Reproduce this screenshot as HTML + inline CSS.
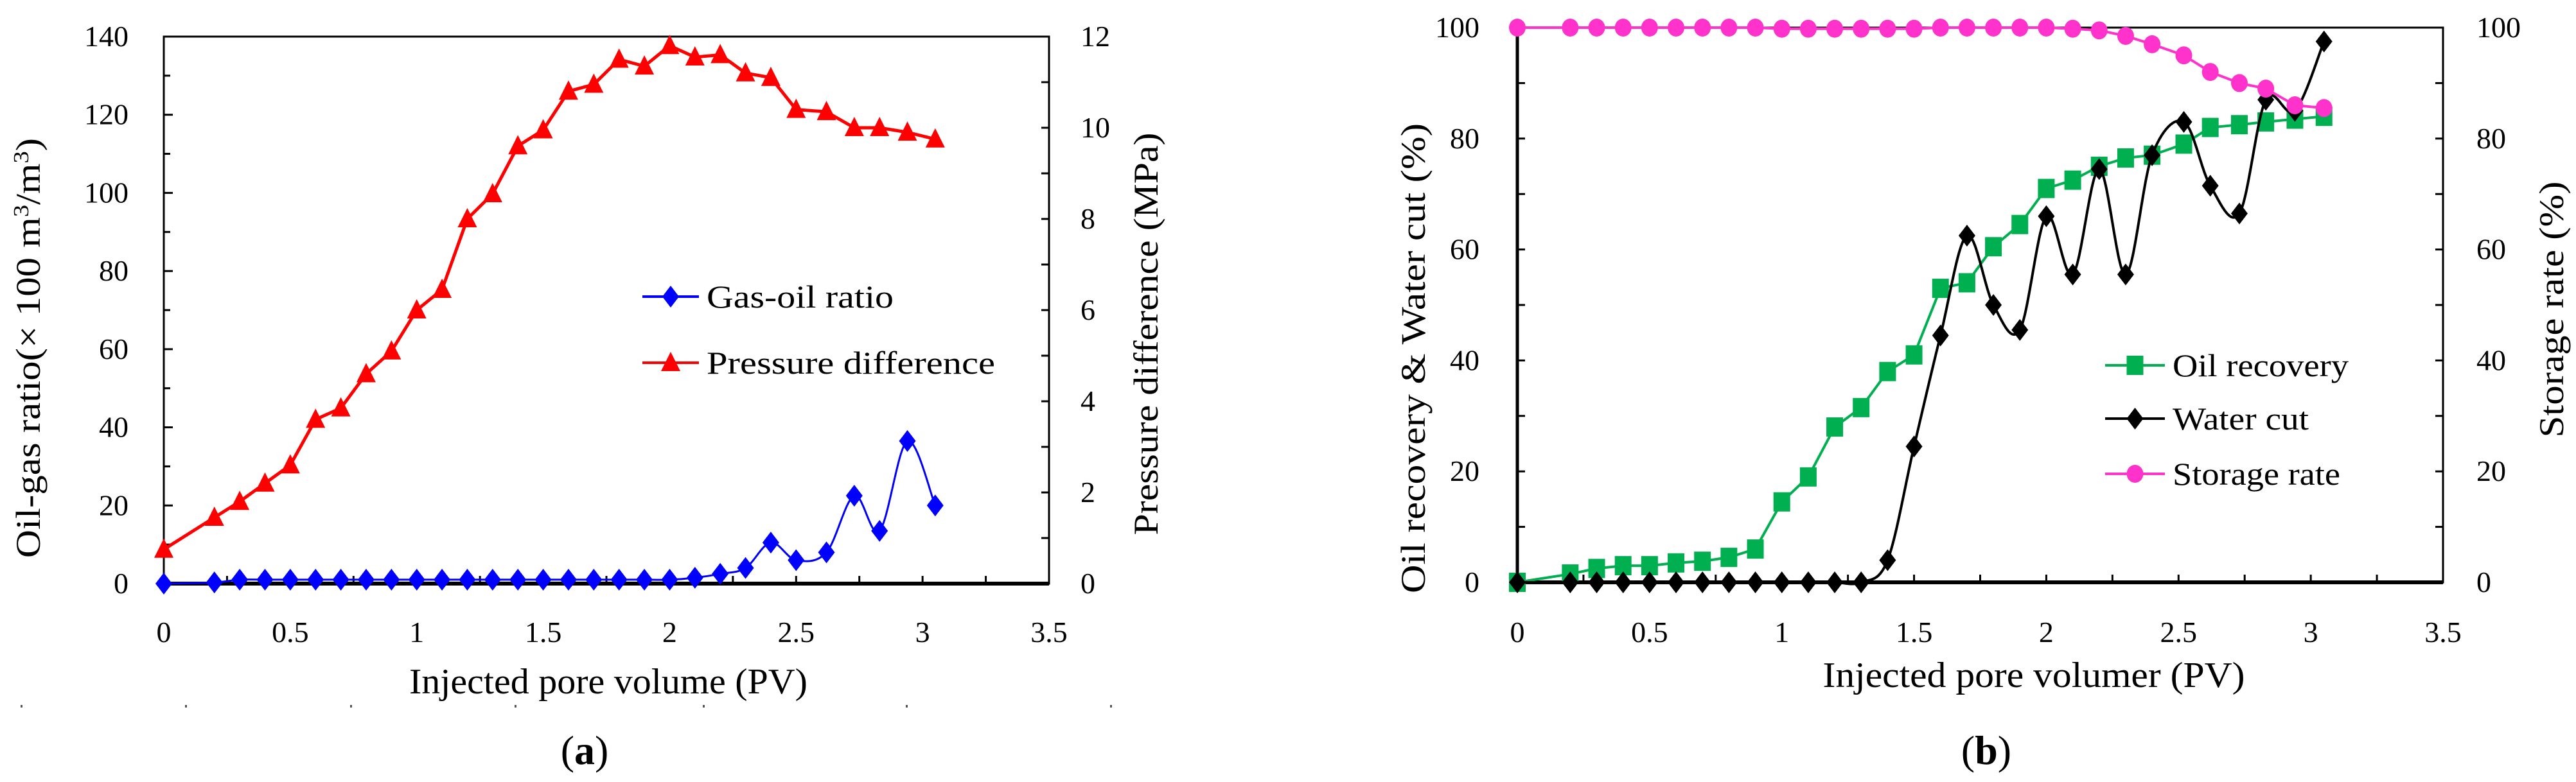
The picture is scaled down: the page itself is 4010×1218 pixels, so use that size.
<!DOCTYPE html>
<html><head><meta charset="utf-8"><style>
html,body{margin:0;padding:0;background:#fff;}
svg, svg text{font-family:"Liberation Serif","Times New Roman",Times,serif;}
</style></head><body>
<svg id="fig" width="4010" height="1213" viewBox="0 0 4010 1213" xmlns="http://www.w3.org/2000/svg" font-family="Liberation Serif, Times New Roman, serif">
<g id="chartA"></g>
<g id="chartB"></g>
</svg>
<script>
// ---- data, chart (a)
const pvA = [0,0.2,0.3,0.4,0.5,0.6,0.7,0.8,0.9,1.0,1.1,1.2,1.3,1.4,1.5,1.6,1.7,1.8,1.9,2.0,2.1,2.2,2.3,2.4,2.5,2.62,2.73,2.83,2.94,3.05];
const gasOil = [0,0.3,1,1,1,1,1,1,1,1,1,1,1,1,1,1,1,1,1,1,1.5,2.5,4,10.5,6,8,22.5,13.5,36.5,20];
const pressure = [0.75,1.45,1.8,2.2,2.6,3.6,3.85,4.6,5.1,6.0,6.45,8.0,8.55,9.6,9.95,10.8,10.95,11.5,11.35,11.8,11.55,11.6,11.2,11.1,10.4,10.35,10.0,10.0,9.9,9.75];
const xTicks = ["0","0.5","1","1.5","2","2.5","3","3.5"];
const yTicksA = ["0","20","40","60","80","100","120","140"];
const y2TicksA = ["0","2","4","6","8","10","12"];
// ---- data, chart (b)
const pvB = [0,0.2,0.3,0.4,0.5,0.6,0.7,0.8,0.9,1.0,1.1,1.2,1.3,1.4,1.5,1.6,1.7,1.8,1.9,2.0,2.1,2.2,2.3,2.4,2.52,2.62,2.73,2.83,2.94,3.05];
const oilRecovery = [0,1.5,2.5,3,3,3.5,3.8,4.5,6,14.5,19,28,31.5,38,41,53,54,60.5,64.5,71,72.5,75,76.5,77,79,82,82.5,83,83.5,84];
const waterCut = [0,0,0,0,0,0,0,0,0,0,0,0,0,4,24.5,44.5,62.5,50,45.5,66,55.5,74.5,55.5,77,83,71.5,66.5,87,85,97.5];
const storageRate = [100,100,100,100,100,100,100,100,100,99.8,99.8,99.8,99.8,99.8,99.8,100,100,100,100,100,99.8,99.5,98.5,97,95,92,90,89,86,85.5];
const yTicksB = ["0","20","40","60","80","100"];

const NS="http://www.w3.org/2000/svg";
const FF="Liberation Serif, Times New Roman, serif";
function el(parent,tag,attrs){const e=document.createElementNS(NS,tag);for(const k in attrs)e.setAttribute(k,attrs[k]);parent.appendChild(e);return e;}
function txt(parent,x,y,s,size,anchor,extra){const t=el(parent,'text',Object.assign({x:x,y:y,'font-size':size,'font-family':FF,'text-anchor':anchor||'middle',fill:'#000'},extra||{}));t.textContent=s;return t;}
function smoothPath(pts){let d=`M${pts[0][0]},${pts[0][1]}`;for(let i=0;i<pts.length-1;i++){const p0=pts[i-1]||pts[i],p1=pts[i],p2=pts[i+1],p3=pts[i+2]||p2;const c1=[p1[0]+(p2[0]-p0[0])/6,p1[1]+(p2[1]-p0[1])/6],c2=[p2[0]-(p3[0]-p1[0])/6,p2[1]-(p3[1]-p1[1])/6];d+=` C${c1[0]},${c1[1]} ${c2[0]},${c2[1]} ${p2[0]},${p2[1]}`;}return d;}
function marker(g,type,x,y,color){
  let m;
  if(type==='diamond') m=el(g,'polygon',{points:`${x},${y-17} ${x+13},${y} ${x},${y+17} ${x-13},${y}`,fill:color});
  else if(type==='triangle') m=el(g,'polygon',{points:`${x},${y-17} ${x+15},${y+13} ${x-15},${y+13}`,fill:color});
  else if(type==='square') m=el(g,'rect',{x:x-13,y:y-15,width:26,height:30,fill:color});
  else m=el(g,'ellipse',{cx:x,cy:y,rx:13,ry:14,fill:color});
  return m;
}
function series(g,name,xs,ys,xf,yf,color,type,smooth,w){
  const sg=el(g,'g',{});
  
  
  const pts=xs.map((v,i)=>[xf(v),yf(ys[i])]);
  const d=smooth?smoothPath(pts):'M'+pts.map(p=>p.join(',')).join(' L');
  const line=el(sg,'path',{d:d,fill:'none',stroke:color,'stroke-width':w||4});
  
  
  pts.forEach((p,i)=>{const m=marker(sg,type,p[0],p[1],color);
    
    });
}
function legendEntry(g,name,x1,x2,y,color,type,label,len){
  const lg=el(g,'g',{});
  
  
  el(lg,'line',{x1:x1,x2:x2,y1:y,y2:y,stroke:color,'stroke-width':4});
  marker(lg,type,(x1+x2)/2,y,color);
  txt(lg,x2+12,y+17,label,50,'start',{textLength:len,lengthAdjust:'spacingAndGlyphs'});
}

// ===== Chart (a)
(function(){
  const g=document.getElementById('chartA');
  const L=255,R=1633,T=57,B=909;
  const xf=v=>L+v/3.5*(R-L), yf=v=>B-v/140*(B-T), y2f=v=>B-v/12*(B-T);
  el(g,'rect',{x:L,y:T,width:R-L,height:B-T,fill:'none',stroke:'#000','stroke-width':3});
  for(let v=10;v<140;v+=10) el(g,'line',{x1:L,x2:L+(v%20?10:14),y1:yf(v),y2:yf(v),stroke:'#000','stroke-width':3});
  for(let v=1;v<12;v++) el(g,'line',{x1:R,x2:R-12,y1:y2f(v),y2:y2f(v),stroke:'#000','stroke-width':3});
  for(let v=0.25;v<3.5;v+=0.25) el(g,'line',{x1:xf(v),x2:xf(v),y1:B,y2:B-12,stroke:'#000','stroke-width':3});
  el(g,'line',{x1:L,x2:R,y1:B,y2:B,stroke:'#000','stroke-width':6});
  xTicks.forEach((s,i)=>{const t=txt(g,xf(i*0.5),1000,s,46);});
  yTicksA.forEach((s,i)=>{const t=txt(g,200,yf(i*20)+15,s,46,'end');});
  y2TicksA.forEach((s,i)=>{const t=txt(g,1682,y2f(i*2)+15,s,46,'start');});
  const xt=txt(g,947,1080,'Injected pore volume (PV)',56,'middle',{textLength:620,lengthAdjust:'spacingAndGlyphs'});
  
  const yt=el(g,'text',{transform:'translate(62,542) rotate(-90)','font-size':54,'font-family':FF,'text-anchor':'middle',textLength:654,lengthAdjust:'spacingAndGlyphs'});
  yt.innerHTML='Oil-gas ratio(× 100 m<tspan baseline-shift="super" font-size="34">3</tspan>/m<tspan baseline-shift="super" font-size="34">3</tspan>)';
  
  const y2t=txt(g,0,0,'Pressure difference (MPa)',54,'middle',{transform:'translate(1802,520) rotate(-90)',textLength:627,lengthAdjust:'spacingAndGlyphs'});
  
  series(g,'pressure-difference-series',pvA,pressure,xf,y2f,'#ff0000','triangle',false,5);
  series(g,'gas-oil-ratio-series',pvA,gasOil,xf,yf,'#0000ff','diamond',true,3);
  legendEntry(g,'legend-gas-oil-ratio',1000,1088,462,'#0000ff','diamond','Gas-oil ratio',291);
  legendEntry(g,'legend-pressure-difference',1000,1088,565,'#ff0000','triangle','Pressure difference',449);
  [32,288,545,801,1094,1410,1728].forEach(x=>el(g,'rect',{x:x,y:1098,width:3,height:4,fill:'#555'}));
  const cap=el(g,'text',{x:910,y:1190,'font-size':64,'font-family':FF,'text-anchor':'middle'});
  cap.innerHTML='(<tspan font-weight="bold">a</tspan>)';
  
})();

// ===== Chart (b)
(function(){
  const g=document.getElementById('chartB');
  const L=2362,R=3803,T=43,B=907;
  const xf=v=>L+v/3.5*(R-L), yf=v=>B-v/100*(B-T);
  el(g,'rect',{x:L,y:T,width:R-L,height:B-T,fill:'none',stroke:'#000','stroke-width':3});
  for(let v=10;v<100;v+=10){el(g,'line',{x1:L,x2:L+12,y1:yf(v),y2:yf(v),stroke:'#000','stroke-width':3});el(g,'line',{x1:R,x2:R-12,y1:yf(v),y2:yf(v),stroke:'#000','stroke-width':3});}
  for(let v=0.25;v<3.5;v+=0.25) el(g,'line',{x1:xf(v),x2:xf(v),y1:B,y2:B-12,stroke:'#000','stroke-width':3});
  el(g,'line',{x1:L,x2:R,y1:B,y2:B,stroke:'#000','stroke-width':6});
  el(g,'line',{x1:L,x2:L,y1:T,y2:B,stroke:'#000','stroke-width':5});
  xTicks.forEach((s,i)=>{const t=txt(g,xf(i*0.5),1000,s,46);});
  yTicksB.forEach((s,i)=>{const t=txt(g,2303,yf(i*20)+15,s,46,'end');
    const t2=txt(g,3855,yf(i*20)+15,s,46,'start');});
  const xt=txt(g,3166,1070,'Injected pore volumer (PV)',56,'middle',{textLength:657,lengthAdjust:'spacingAndGlyphs'});
  
  const yt=txt(g,0,0,'Oil recovery & Water cut (%)',54,'middle',{transform:'translate(2218,558) rotate(-90)',textLength:732,lengthAdjust:'spacingAndGlyphs'});
  
  const y2t=txt(g,0,0,'Storage rate (%)',54,'middle',{transform:'translate(3990,482) rotate(-90)',textLength:399,lengthAdjust:'spacingAndGlyphs'});
  
  series(g,'oil-recovery-series',pvB,oilRecovery,xf,yf,'#00b050','square',false,4);
  series(g,'water-cut-series',pvB,waterCut,xf,yf,'#000000','diamond',true,4);
  series(g,'storage-rate-series',pvB,storageRate,xf,yf,'#ff33cc','circle',false,4);
  legendEntry(g,'legend-oil-recovery',3277,3370,569,'#00b050','square','Oil recovery',274);
  legendEntry(g,'legend-water-cut',3277,3370,652,'#000000','diamond','Water cut',212);
  legendEntry(g,'legend-storage-rate',3277,3370,738,'#ff33cc','circle','Storage rate',261);
  const cap=el(g,'text',{x:3092,y:1190,'font-size':64,'font-family':FF,'text-anchor':'middle'});
  cap.innerHTML='(<tspan font-weight="bold">b</tspan>)';
  
})();
</script>
</body></html>
